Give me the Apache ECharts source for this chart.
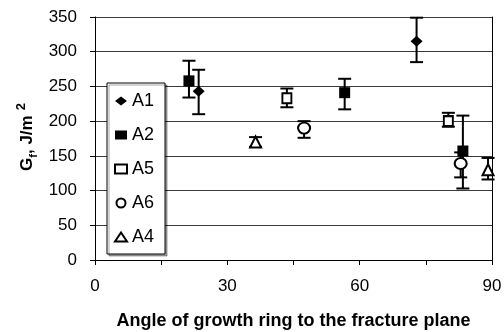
<!DOCTYPE html>
<html>
<head>
<meta charset="utf-8">
<script src="https://cdn.jsdelivr.net/npm/echarts@6/dist/echarts.min.js"></script>
<style>
html,body{margin:0;padding:0;background:#fff;}
#c{width:504px;height:332px;}
</style>
</head>
<body>
<div id="c"></div>
<script>
// ---- data ----
const seriesNames = ['A1', 'A2', 'A5', 'A6', 'A4'];
const xTicks = [0, 30, 60, 90];
const yTicks = [0, 50, 100, 150, 200, 250, 300, 350];

const a1Angle = [23.5, 72.9];
const a1Gf    = [243, 315];
const a1Low   = [210, 285];
const a1High  = [274, 349];

const a2Angle = [21.3, 56.6, 83.4];
const a2Gf    = [258, 241, 157];
const a2Low   = [234, 217, 103];
const a2High  = [287, 261, 208];

const a5Angle = [43.5, 80.1];
const a5Gf    = [233, 200];
const a5Low   = [220, 192];
const a5High  = [247, 212];

const a6Angle = [47.4, 82.9];
const a6Gf    = [190, 139];
const a6Low   = [176, 119];
const a6High  = [200, 155];

const a4Angle = [36.4, 89.1];
const a4Gf    = [170, 130];
const a4Low   = [163, 116];
const a4High  = [177, 147];

const groups = [
  {name: 'A1', x: a1Angle, y: a1Gf, lo: a1Low, hi: a1High, symbol: 'diamond', size: [12, 11], fill: '#000'},
  {name: 'A2', x: a2Angle, y: a2Gf, lo: a2Low, hi: a2High, symbol: 'rect', size: [11, 11], fill: '#000'},
  {name: 'A5', x: a5Angle, y: a5Gf, lo: a5Low, hi: a5High, symbol: 'rect', size: [9, 10], fill: '#fff'},
  {name: 'A6', x: a6Angle, y: a6Gf, lo: a6Low, hi: a6High, symbol: 'circle', size: [12, 11], fill: '#fff'},
  {name: 'A4', x: a4Angle, y: a4Gf, lo: a4Low, hi: a4High, symbol: 'triangle', size: [11, 11], fill: '#fff'}
];

const FONT = 'Liberation Sans, Arial, sans-serif';
const chart = echarts.init(document.getElementById('c'), null, {renderer: 'canvas'});

function errRender(params, api) {
  const x = api.value(0);
  const p1 = api.coord([x, api.value(1)]);
  const p2 = api.coord([x, api.value(2)]);
  const hw = 6.5;
  const st = {stroke: '#000', lineWidth: 2};
  return {
    type: 'group',
    children: [
      {type: 'line', shape: {x1: p1[0], y1: p1[1], x2: p2[0], y2: p2[1]}, style: st},
      {type: 'line', shape: {x1: p1[0] - hw, y1: p1[1], x2: p1[0] + hw, y2: p1[1]}, style: st},
      {type: 'line', shape: {x1: p2[0] - hw, y1: p2[1], x2: p2[0] + hw, y2: p2[1]}, style: st}
    ]
  };
}

const series = [];
groups.forEach(g => {
  series.push({
    type: 'custom',
    name: g.name + '_err',
    renderItem: errRender,
    data: g.x.map((v, i) => [v, g.lo[i], g.hi[i]]),
    z: 2,
    silent: true
  });
});
groups.forEach(g => {
  series.push({
    type: 'scatter',
    name: g.name,
    symbol: g.symbol,
    symbolSize: g.size,
    itemStyle: {color: g.fill, borderColor: '#000', borderWidth: g.fill === '#fff' ? 2 : 0, opacity: 1},
    data: g.x.map((v, i) => [v, g.y[i]]),
    z: 5
  });
});

chart.setOption({
  animation: false,
  backgroundColor: '#fff',
  grid: {left: 95, right: 12, top: 17, bottom: 72, containLabel: false, outerBoundsMode: 'none'},
  legend: {
    data: seriesNames.map(n => ({name: n})),
    orient: 'vertical',
    left: 107,
    top: 83,
    padding: [9, 11, 8, 7],
    itemGap: 16,
    itemWidth: 12,
    itemHeight: 9,
    backgroundColor: '#fff',
    borderColor: '#000',
    borderWidth: 1,
    borderRadius: 0,
    shadowColor: 'rgba(0,0,0,0.35)',
    shadowOffsetX: 2,
    shadowOffsetY: 2,
    shadowBlur: 0,
    textStyle: {fontFamily: FONT, fontSize: 18, color: '#000', lineHeight: 18},
    selectedMode: false
  },
  xAxis: {
    type: 'value',
    min: 0, max: 90, interval: 15,
    name: 'Angle of growth ring to the fracture plane',
    nameLocation: 'middle',
    nameGap: 52,
    nameTextStyle: {fontFamily: FONT, fontSize: 18, fontWeight: 'bold', color: '#000'},
    axisLine: {show: true, lineStyle: {color: '#000', width: 1}},
    axisTick: {show: true, length: 5, lineStyle: {color: '#000'}},
    axisLabel: {
      margin: 18,
      fontFamily: FONT, fontSize: 17, color: '#000',
      formatter: v => (xTicks.indexOf(v) >= 0 ? String(v) : '')
    },
    splitLine: {show: false}
  },
  yAxis: [{
    type: 'value',
    min: 0, max: 350, interval: 50,
    axisLine: {show: true, lineStyle: {color: '#000', width: 1}},
    axisTick: {show: true, length: 5, lineStyle: {color: '#000'}},
    axisLabel: {
      margin: 18, fontFamily: FONT, fontSize: 17, color: '#000',
      formatter: v => (yTicks.indexOf(v) >= 0 ? String(v) : '')
    },
    splitLine: {show: true, lineStyle: {color: '#3a3a3a', width: 1}}
  }, {
    type: 'value',
    position: 'right',
    min: 0, max: 350, interval: 50,
    axisLine: {show: true, lineStyle: {color: '#000', width: 1}},
    axisTick: {show: false},
    axisLabel: {show: false},
    splitLine: {show: false}
  }],
  graphic: [{
    type: 'text',
    x: 27,
    y: 137,
    rotation: Math.PI / 2,
    style: {
      text: '{a|G}{s|f}{a|, J/m}{p|2}',
      align: 'center',
      verticalAlign: 'middle',
      fill: '#000',
      rich: {
        a: {fontFamily: FONT, fontSize: 17, fontWeight: 'bold', fill: '#000', lineHeight: 24, verticalAlign: 'middle'},
        s: {fontFamily: FONT, fontSize: 11, fontWeight: 'bold', fill: '#000', lineHeight: 24, verticalAlign: 'bottom'},
        p: {fontFamily: FONT, fontSize: 13, fontWeight: 'bold', fill: '#000', lineHeight: 24, verticalAlign: 'top', padding: [0, 0, 0, 5]}
      }
    }
  }],
  series: series
});
</script>
</body>
</html>
